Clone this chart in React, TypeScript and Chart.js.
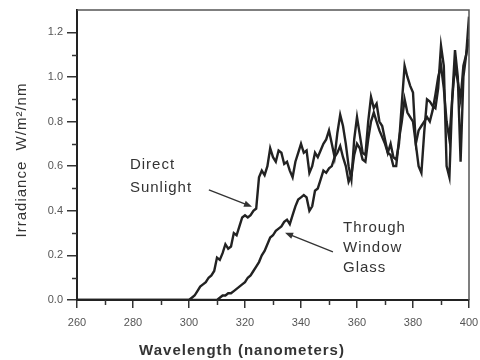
import React, { useEffect, useRef } from 'react';
import { Chart, registerables } from 'chart.js';

Chart.register(...registerables);

// ---- Data ----
const directNm = [
  260, 300, 301, 302, 303, 304, 305, 306, 307, 308, 309,
  310, 311, 312, 313, 314, 315, 316, 317, 318, 319,
  320, 321, 322, 323, 324, 325, 326, 327, 328, 329,
  330, 331, 332, 333, 334, 335, 336, 337, 338, 339,
  340, 341, 342, 343, 344, 345, 346, 347, 348, 349,
  350, 351, 352, 353, 354, 355, 356, 357, 358, 359,
  360, 361, 362, 363, 364, 365, 366, 367, 368, 369,
  370, 371, 372, 373, 374, 375, 376, 377, 378, 379,
  380, 381, 382, 383, 384, 385, 386, 387, 388, 389,
  390, 391, 392, 393, 394, 395, 396, 397, 398, 399, 400,
];
const directIrradiance = [
  0, 0, 0.01, 0.02, 0.04, 0.06, 0.07, 0.08, 0.10, 0.11, 0.13,
  0.19, 0.18, 0.21, 0.25, 0.23, 0.24, 0.30, 0.29, 0.33, 0.37,
  0.38, 0.37, 0.38, 0.40, 0.41, 0.55, 0.58, 0.56, 0.60, 0.68,
  0.64, 0.62, 0.67, 0.66, 0.61, 0.62, 0.58, 0.55, 0.62, 0.66,
  0.70, 0.66, 0.67, 0.57, 0.60, 0.66, 0.64, 0.67, 0.70, 0.72,
  0.76, 0.70, 0.64, 0.75, 0.83, 0.78, 0.70, 0.60, 0.54, 0.72,
  0.82, 0.74, 0.66, 0.65, 0.80, 0.91, 0.86, 0.88, 0.80, 0.78,
  0.72, 0.66, 0.70, 0.64, 0.63, 0.70, 0.88, 1.05, 1.00, 0.96,
  0.93, 0.70, 0.60, 0.57, 0.75, 0.90, 0.89, 0.87, 0.86, 0.95,
  1.14, 1.05, 0.60, 0.55, 0.90, 1.12, 1.00, 0.62, 1.00, 1.10, 1.27,
];

const glassNm = [
  260, 310, 311, 312, 313, 314, 315, 316, 317, 318, 319,
  320, 321, 322, 323, 324, 325, 326, 327, 328, 329,
  330, 331, 332, 333, 334, 335, 336, 337, 338, 339,
  340, 341, 342, 343, 344, 345, 346, 347, 348, 349,
  350, 351, 352, 353, 354, 355, 356, 357, 358, 359,
  360, 361, 362, 363, 364, 365, 366, 367, 368, 369,
  370, 371, 372, 373, 374, 375, 376, 377, 378, 379,
  380, 381, 382, 383, 384, 385, 386, 387, 388, 389,
  390, 391, 392, 393, 394, 395, 396, 397, 398, 399, 400,
];
const glassIrradiance = [
  0, 0, 0.01, 0.02, 0.02, 0.03, 0.03, 0.04, 0.05, 0.06, 0.07,
  0.08, 0.10, 0.11, 0.13, 0.15, 0.17, 0.20, 0.22, 0.25, 0.28,
  0.29, 0.31, 0.32, 0.33, 0.35, 0.36, 0.34, 0.38, 0.42, 0.45,
  0.46, 0.47, 0.46, 0.40, 0.42, 0.49, 0.50, 0.54, 0.58, 0.57,
  0.59, 0.60, 0.64, 0.66, 0.69, 0.64, 0.60, 0.53, 0.56, 0.65,
  0.70, 0.68, 0.63, 0.62, 0.72, 0.80, 0.84, 0.80, 0.76, 0.73,
  0.70, 0.66, 0.65, 0.60, 0.60, 0.72, 0.80, 0.90, 0.84, 0.82,
  0.80, 0.70, 0.76, 0.78, 0.80, 0.82, 0.80, 0.85, 0.92, 1.00,
  1.05, 0.95, 0.80, 0.72, 0.90, 1.05, 0.98, 0.90, 1.05, 1.10, 1.17,
];

const xMajorTicks = [260, 280, 300, 320, 340, 360, 380, 400];
const xTickLabels = ['260', '280', '300', '320', '340', '360', '380', '400'];
const xMinorTicks = [270, 290, 310, 330, 350, 370, 390];
const yMajorTicks = [0, 0.2, 0.4, 0.6, 0.8, 1.0, 1.2];
const yTickLabels = ['0.0', '0.2', '0.4', '0.6', '0.8', '1.0', '1.2'];
const yMinorTicks = [0.1, 0.3, 0.5, 0.7, 0.9, 1.1];

const xTitle = 'Wavelength (nanometers)';
const yTitle = 'Irradiance  W/m²/nm';

// annotation labels (anchored in data coordinates)
const directLabelLines = ['Direct', 'Sunlight'];
const directLabelAnchor = [{ nm: 278.9, v: 0.607 }, { nm: 278.9, v: 0.503 }];
const directArrow = { fromNm: 307.1, fromV: 0.494, toNm: 322.5, toV: 0.418 };
const glassLabelLines = ['Through', 'Window', 'Glass'];
const glassLabelAnchor = [{ nm: 355, v: 0.324 }, { nm: 355, v: 0.234 }, { nm: 355, v: 0.144 }];
const glassArrow = { fromNm: 351.4, fromV: 0.216, toNm: 334.3, toV: 0.301 };

const FONT = '"Liberation Sans", Arial, sans-serif';

function drawArrow(ctx: CanvasRenderingContext2D, x1: number, y1: number, x2: number, y2: number) {
  const ang = Math.atan2(y2 - y1, x2 - x1);
  const hl = 8;
  const hw = 3.2;
  ctx.beginPath();
  ctx.moveTo(x1, y1);
  ctx.lineTo(x2 - Math.cos(ang) * hl * 0.8, y2 - Math.sin(ang) * hl * 0.8);
  ctx.stroke();
  ctx.beginPath();
  ctx.moveTo(x2, y2);
  ctx.lineTo(x2 - Math.cos(ang) * hl + Math.sin(ang) * hw, y2 - Math.sin(ang) * hl - Math.cos(ang) * hw);
  ctx.lineTo(x2 - Math.cos(ang) * hl - Math.sin(ang) * hw, y2 - Math.sin(ang) * hl + Math.cos(ang) * hw);
  ctx.closePath();
  ctx.fill();
}

const decorPlugin = {
  id: 'decor',
  afterDatasetsDraw(chart: any) {
    const { ctx, chartArea: a, scales } = chart;
    const x = scales.x;
    const y = scales.y;
    ctx.save();
    // frame top & right
    ctx.strokeStyle = '#555';
    ctx.lineWidth = 1.5;
    ctx.beginPath();
    ctx.moveTo(a.left, a.top);
    ctx.lineTo(a.right, a.top);
    ctx.lineTo(a.right, a.bottom);
    ctx.stroke();
    // minor ticks
    ctx.strokeStyle = '#333';
    ctx.lineWidth = 1.5;
    yMinorTicks.forEach((v) => {
      const py = Math.round(y.getPixelForValue(v)) + 0.5;
      ctx.beginPath();
      ctx.moveTo(a.left - 5, py);
      ctx.lineTo(a.left, py);
      ctx.stroke();
    });
    xMinorTicks.forEach((v) => {
      const px = Math.round(x.getPixelForValue(v)) + 0.5;
      ctx.beginPath();
      ctx.moveTo(px, a.bottom);
      ctx.lineTo(px, a.bottom + 5);
      ctx.stroke();
    });
    // annotations
    ctx.fillStyle = '#333';
    ctx.font = `15px ${FONT}`;
    (ctx as any).letterSpacing = '1px';
    ctx.textAlign = 'left';
    ctx.textBaseline = 'middle';
    directLabelLines.forEach((t, i) => {
      ctx.fillText(t, x.getPixelForValue(directLabelAnchor[i].nm), y.getPixelForValue(directLabelAnchor[i].v));
    });
    glassLabelLines.forEach((t, i) => {
      ctx.fillText(t, x.getPixelForValue(glassLabelAnchor[i].nm), y.getPixelForValue(glassLabelAnchor[i].v));
    });
    ctx.strokeStyle = '#333';
    ctx.lineWidth = 1.3;
    [directArrow, glassArrow].forEach((ar) => {
      drawArrow(
        ctx,
        x.getPixelForValue(ar.fromNm), y.getPixelForValue(ar.fromV),
        x.getPixelForValue(ar.toNm), y.getPixelForValue(ar.toV)
      );
    });
    // axis titles
    ctx.fillStyle = '#333';
    ctx.font = `bold 15px ${FONT}`;
    ctx.textAlign = 'center';
    ctx.textBaseline = 'middle';
    ctx.fillText(xTitle, (a.left + a.right) / 2 - 31, 351);
    ctx.font = `15px ${FONT}`;
    ctx.translate(22, (a.top + a.bottom) / 2 + 5);
    ctx.rotate(-Math.PI / 2);
    ctx.fillText(yTitle, 0, 0);
    (ctx as any).letterSpacing = '0px';
    ctx.restore();
  },
};

export default function App() {
  const ref = useRef<HTMLCanvasElement | null>(null);
  useEffect(() => {
    if (!ref.current) return;
    const chart = new Chart(ref.current, {
      type: 'line',
      data: {
        datasets: [
          {
            label: 'Direct Sunlight',
            data: directNm.map((nm, i) => ({ x: nm, y: directIrradiance[i] })),
            borderColor: '#222',
            borderWidth: 2.4,
            pointRadius: 0,
            tension: 0,
            fill: false,
          },
          {
            label: 'Through Window Glass',
            data: glassNm.map((nm, i) => ({ x: nm, y: glassIrradiance[i] })),
            borderColor: '#222',
            borderWidth: 2.4,
            pointRadius: 0,
            tension: 0,
            fill: false,
          },
        ],
      },
      options: {
        animation: false,
        responsive: false,
        devicePixelRatio: 1,
        layout: { padding: { top: 10, right: 11, left: 0, bottom: 0 } },
        plugins: { legend: { display: false }, tooltip: { enabled: false } },
        scales: {
          x: {
            type: 'linear',
            min: 260,
            max: 400,
            afterBuildTicks: (s: any) => {
              s.ticks = xMajorTicks.map((v) => ({ value: v }));
            },
            afterFit: (s: any) => {
              s.height = 60;
              s.paddingLeft = 0;
              s.paddingRight = 0;
            },
            grid: { drawOnChartArea: false, drawTicks: true, tickLength: 8, color: '#333', lineWidth: 1.5 },
            border: { display: true, color: '#222', width: 2 },
            ticks: {
              autoSkip: false,
              maxRotation: 0,
              padding: 8,
              color: '#555',
              font: { family: FONT, size: 11 },
              callback: (_v: any, i: number) => xTickLabels[i],
            },
          },
          y: {
            type: 'linear',
            min: 0,
            max: 1.3,
            afterBuildTicks: (s: any) => {
              s.ticks = yMajorTicks.map((v) => ({ value: v }));
            },
            afterFit: (s: any) => {
              s.width = 77;
              s.paddingTop = 0;
              s.paddingBottom = 0;
            },
            grid: { drawOnChartArea: false, drawTicks: true, tickLength: 10, color: '#333', lineWidth: 1.5 },
            border: { display: true, color: '#222', width: 2 },
            ticks: {
              autoSkip: false,
              padding: 4,
              color: '#555',
              font: { family: FONT, size: 11 },
              callback: (_v: any, i: number) => yTickLabels[i],
            },
          },
        },
      },
      plugins: [decorPlugin],
    });
    return () => chart.destroy();
  }, []);
  return (
    <div style={{ position: 'absolute', left: 0, top: 0, width: 480, height: 360, background: '#fff' }}>
      <canvas ref={ref} width={480} height={360} />
    </div>
  );
}
